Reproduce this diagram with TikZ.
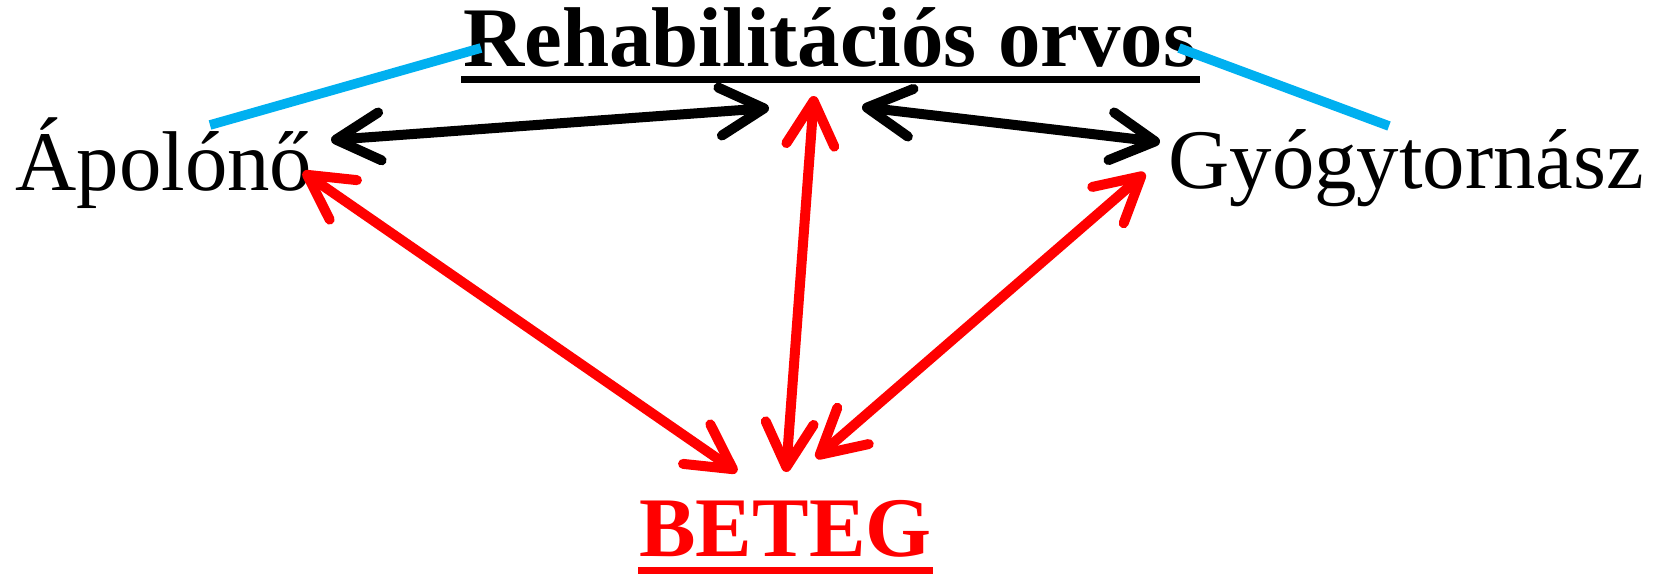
\documentclass[tikz,border=0pt]{standalone}
\usepackage{fontspec}
\setmainfont{Liberation Serif}
\usetikzlibrary{arrows.meta}
\definecolor{skyb}{HTML}{00B0F0}
\definecolor{pred}{HTML}{FF0000}
\begin{document}
\begin{tikzpicture}[x=0.5pt,y=-0.5pt,
  lbl/.style={inner sep=0pt, anchor=base west, font=\fontsize{42.4}{50}\selectfont},
  conn/.style={line width=5pt, line cap=round, line join=round,
    {Straight Barb[length=22pt,width=24pt,round]}-{Straight Barb[length=22pt,width=24pt,round]}},
  blk/.style={conn, draw=black},
  rd/.style={conn, draw=pred},
  tie/.style={line width=4.8pt, draw=skyb},
  uline/.style={line width=3.5pt}]
\useasboundingbox (0,0) rectangle (1669,574);
% labels
\node[lbl, font=\fontsize{42.4}{50}\selectfont\bfseries] (orvos) at (463,66) {Rehabilitációs orvos};
\node[lbl] (apolo) at (15,190) {Ápolónő};
\node[lbl] (gyogy) at (1168,188) {Gyógytornász};
\node[lbl, font=\fontsize{42.4}{50}\selectfont\bfseries, text=pred] (beteg) at (639,556) {BETEG};
% underlines
\coordinate (uo1) at (461,79.5); \coordinate (uo2) at (1200,79.5);
\draw[uline, black] (uo1) -- (uo2);
\coordinate (ub1) at (638,570.5); \coordinate (ub2) at (933,570.5);
\draw[uline, pred] (ub1) -- (ub2);
% connector endpoints
\coordinate (bA) at (331,140); \coordinate (bR1) at (769,108);
\coordinate (bR2) at (862,107); \coordinate (bG) at (1160,142);
\coordinate (rA) at (303,172); \coordinate (rB1) at (737,472);
\coordinate (rR) at (814,96);  \coordinate (rB2) at (786,472);
\coordinate (rG) at (1145,173); \coordinate (rB3) at (816,458);
\coordinate (cA) at (210,125); \coordinate (cR1) at (481,48);
\coordinate (cR2) at (1179,48); \coordinate (cG) at (1389,126);
% black arrows
\draw[blk] (bA) -- (bR1);
\draw[blk] (bR2) -- (bG);
% red arrows
\draw[rd] (rA) -- (rB1);
\draw[rd] (rR) -- (rB2);
\draw[rd] (rG) -- (rB3);
% blue ties
\draw[tie] (cA) -- (cR1);
\draw[tie] (cR2) -- (cG);
\end{tikzpicture}
\end{document}
